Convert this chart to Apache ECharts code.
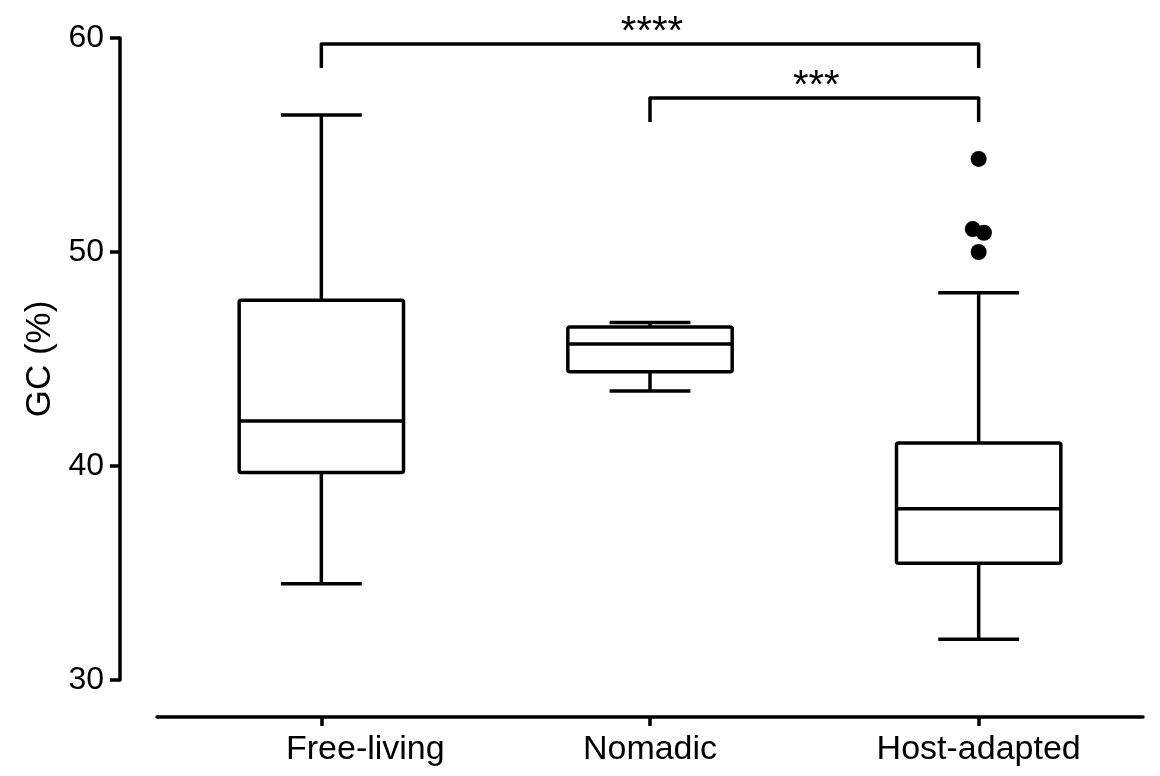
<!DOCTYPE html>
<html>
<head>
<meta charset="utf-8">
<script src="https://cdn.jsdelivr.net/npm/echarts@6/dist/echarts.min.js"></script>
<style>
    html, body { margin: 0; padding: 0; background: #fff; }
    #chart { width: 1160px; height: 776px; }
</style>
</head>
<body>
<div id="chart"></div>
<script>
    const categories = ['Free-living', 'Nomadic', 'Host-adapted'];
    const whiskerLow = [34.5, 43.5, 31.9];
    const quartile1 = [39.7, 44.4, 35.45];
    const median = [42.1, 45.7, 38.0];
    const quartile3 = [47.75, 46.5, 41.07];
    const whiskerHigh = [56.4, 46.7, 48.1];

    const outlierGroup = [2, 2, 2, 2];
    const outlierValues = [54.35, 51.07, 50.9, 50.0];
    const outlierJitter = [0, -0.018, 0.016, 0];

    const bracketFrom = [0, 1];
    const bracketTo = [2, 2];
    const bracketLevel = [59.72, 57.2];
    const bracketLabels = ['****', '***'];

    const yTicks = [30, 40, 50, 60];

    const FONT = "'Liberation Sans', Arial, Helvetica, sans-serif";
    const LW = 3.5;

    function box_chart(element) {
        const chartDom = document.getElementById(element);
        const myChart = echarts.init(chartDom);

        const boxData = categories.map((c, i) => [
            i, whiskerLow[i], quartile1[i], median[i], quartile3[i], whiskerHigh[i]
        ]);
        const outlierData = outlierValues.map((v, i) => [outlierGroup[i] + outlierJitter[i], v]);
        const bracketData = bracketLabels.map((t, i) => [bracketFrom[i], bracketTo[i], bracketLevel[i]]);

        const stroke = {stroke: '#000', lineWidth: LW, fill: 'none'};

        let option = {
            animation: false,
            grid: {left: 157, right: 17, top: 38, bottom: 96},
            xAxis: [{
                type: 'category',
                data: categories,
                offset: 37,
                axisLine: {show: true, lineStyle: {color: '#000', width: LW}},
                axisTick: {show: true, inside: false, alignWithLabel: true, length: 9, lineStyle: {color: '#000', width: LW}},
                axisLabel: {
                    color: '#000', fontSize: 34, fontFamily: FONT, margin: 16,
                    // the first label sits to the right of its tick in the original
                    formatter: function (v, i) {
                        return i === 0 ? '{shift|' + v + '}' : v;
                    },
                    rich: {shift: {padding: [0, 0, 0, 88], fontSize: 34, fontFamily: FONT, color: '#000'}}
                },
                splitLine: {show: false}
            }, {
                type: 'value',
                min: -0.5,
                max: 2.5,
                show: false
            }],
            yAxis: {
                type: 'value',
                min: yTicks[0],
                max: yTicks[yTicks.length - 1],
                interval: 10,
                offset: 37,
                name: 'GC (%)',
                nameLocation: 'middle',
                nameGap: 62,
                nameTextStyle: {color: '#000', fontSize: 35, fontFamily: FONT},
                axisLine: {show: true, onZero: false, lineStyle: {color: '#000', width: LW}},
                axisTick: {show: true, length: 10, lineStyle: {color: '#000', width: LW}},
                axisLabel: {color: '#000', fontSize: 32, fontFamily: FONT, margin: 16},
                splitLine: {show: false}
            },
            series: [
                {
                    type: 'custom',
                    xAxisIndex: 0,
                    data: boxData,
                    encode: {x: 0, y: [1, 2, 3, 4, 5]},
                    renderItem: function (params, api) {
                        const i = api.value(0);
                        const band = api.size([1, 0])[0];
                        const half = band * 0.25;
                        const capHalf = band * 0.123;
                        const pLow = api.coord([i, api.value(1)]);
                        const pQ1 = api.coord([i, api.value(2)]);
                        const pMed = api.coord([i, api.value(3)]);
                        const pQ3 = api.coord([i, api.value(4)]);
                        const pHigh = api.coord([i, api.value(5)]);
                        const cx = pMed[0];
                        return {
                            type: 'group',
                            children: [
                                {type: 'line', shape: {x1: cx, y1: pHigh[1], x2: cx, y2: pQ3[1]}, style: stroke},
                                {type: 'line', shape: {x1: cx, y1: pQ1[1], x2: cx, y2: pLow[1]}, style: stroke},
                                {type: 'line', shape: {x1: cx - capHalf, y1: pHigh[1], x2: cx + capHalf, y2: pHigh[1]}, style: stroke},
                                {type: 'line', shape: {x1: cx - capHalf, y1: pLow[1], x2: cx + capHalf, y2: pLow[1]}, style: stroke},
                                {
                                    type: 'rect',
                                    shape: {x: cx - half, y: pQ3[1], width: half * 2, height: pQ1[1] - pQ3[1], r: 2},
                                    style: {fill: '#fff', stroke: '#000', lineWidth: LW}
                                },
                                {type: 'line', shape: {x1: cx - half, y1: pMed[1], x2: cx + half, y2: pMed[1]}, style: stroke}
                            ]
                        };
                    }
                },
                {
                    type: 'scatter',
                    xAxisIndex: 1,
                    data: outlierData,
                    symbol: 'circle',
                    symbolSize: 16,
                    itemStyle: {color: '#000', opacity: 1},
                    z: 5
                },
                {
                    type: 'custom',
                    xAxisIndex: 0,
                    data: bracketData,
                    clip: false,
                    encode: {x: [0, 1], y: 2},
                    renderItem: function (params, api) {
                        const p1 = api.coord([api.value(0), api.value(2)]);
                        const p2 = api.coord([api.value(1), api.value(2)]);
                        const drop = 24;
                        return {
                            type: 'group',
                            children: [
                                {
                                    type: 'polyline',
                                    shape: {points: [[p1[0], p1[1] + drop], [p1[0], p1[1]], [p2[0], p2[1]], [p2[0], p2[1] + drop]]},
                                    style: {stroke: '#000', lineWidth: LW, fill: 'none', lineJoin: 'round'}
                                },
                                {
                                    type: 'text',
                                    style: {
                                        text: bracketLabels[params.dataIndex],
                                        x: (p1[0] + p2[0]) / 2 + 2,
                                        y: p1[1] - 11,
                                        align: 'center',
                                        verticalAlign: 'middle',
                                        fontSize: 40,
                                        fontFamily: FONT,
                                        fill: '#000'
                                    }
                                }
                            ]
                        };
                    }
                }
            ]
        };

        option && myChart.setOption(option);
        window.addEventListener('resize', function () {
            if (myChart != null) {
                myChart.resize();
            }
        });
    }

    box_chart('chart');
</script>
</body>
</html>
